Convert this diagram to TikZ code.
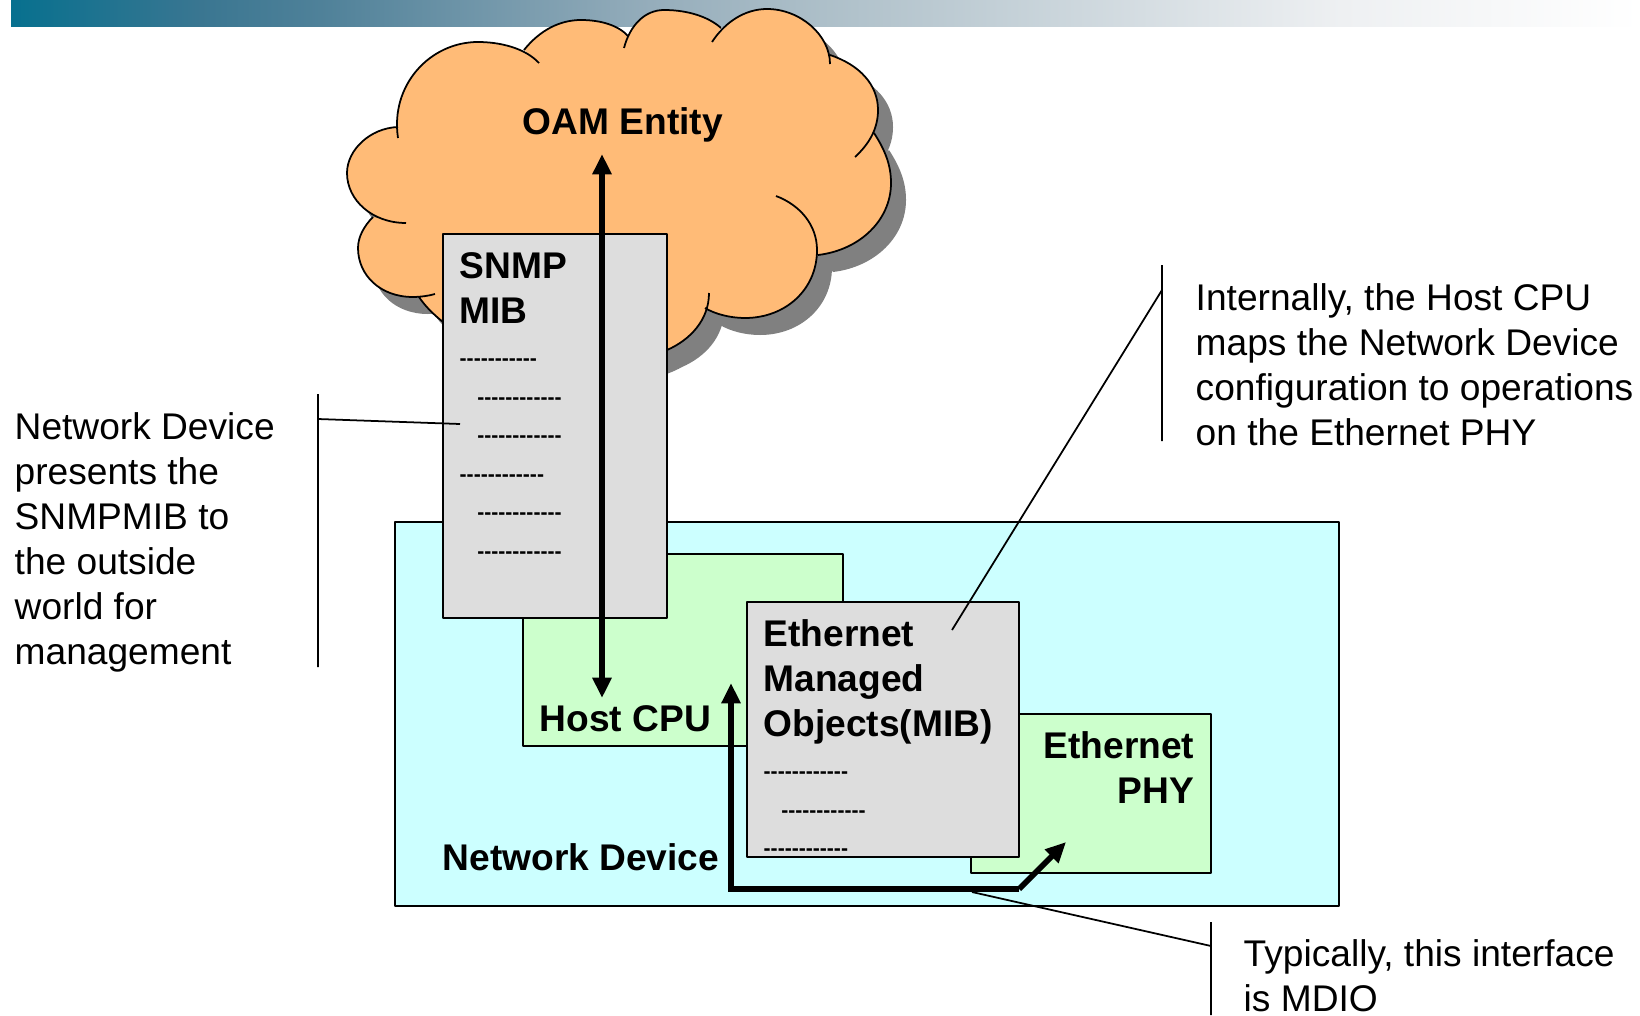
\documentclass[tikz,border=0pt]{standalone}
\usepackage{fontspec}
\setmainfont{Liberation Sans}
\newfontfamily\dashfont{Liberation Sans}
\definecolor{devcyan}{HTML}{CCFFFF}
\definecolor{blockgreen}{HTML}{CCFFCC}
\definecolor{mibgray}{HTML}{DDDDDD}
\definecolor{cloudorange}{HTML}{FFBB77}
\pgfdeclarehorizontalshading{barshade}{100bp}{
	rgb(0bp)=(.027,.44,.56);rgb(25bp)=(.027,.44,.56);rgb(30.8bp)=(.227,.463,.569);
	rgb(34.5bp)=(.31,.506,.6);rgb(44.6bp)=(.584,.678,.733);rgb(49.2bp)=(.667,.741,.78);
	rgb(65.8bp)=(.933,.941,.949);rgb(75bp)=(1,1,1);rgb(100bp)=(1,1,1)}
\usetikzlibrary{arrows.meta}
\tikzset{
	block/.style={draw=black,line width=0.55pt},
	leader/.style={black,line width=0.5pt},
	bushead/.tip={Triangle[length=5.8pt,width=5.2pt]},
	busarrow/.style={-bushead,line width=1.6pt,line join=miter},
	label/.style={inner sep=0pt,align=left,font=\fontsize{10.56}{12.8}\selectfont},
	title/.style={inner sep=0pt,align=left,font=\fontsize{10.56}{12.8}\selectfont\bfseries},
	dashes/.style={inner sep=0pt,align=left,font=\dashfont\fontsize{6}{10.98}\selectfont\bfseries}
}
\newcommand{\cloudpath}[1]{
	(398,138) .. controls (390,85) and (430,42) .. (478,42) .. controls (500,42) and (525,48) .. (539,63) #1
	(524,50) .. controls (540,30) and (560,20) .. (581,20) .. controls (600,20) and (618,25) .. (628,36) #1
	(624,48) .. controls (630,25) and (645,10) .. (664,10) .. controls (690,10) and (710,18) .. (721,28) #1
	(712,42) .. controls (725,22) and (745,9) .. (767,9) .. controls (800,9) and (830,35) .. (830,64) #1
	(830,55) .. controls (860,65) and (878,85) .. (878,110) .. controls (878,130) and (868,145) .. (855,157) #1
	(874,133) .. controls (885,150) and (891,165) .. (891,183) .. controls (891,220) and (860,250) .. (818,255) #1
	(776,196) .. controls (800,205) and (817,225) .. (817,250) .. controls (817,290) and (785,318) .. (745,318) .. controls (730,318) and (715,314) .. (705,308) #1
	(709,293) .. controls (709,320) and (690,340) .. (667,350) .. controls (658,355) and (650,358) .. (640,360) #1
	(443,322) .. controls (433,314) and (425,306) .. (419,297) #1
	(435,294) .. controls (428,296) and (420,297) .. (413,297) .. controls (380,297) and (358,275) .. (358,248) .. controls (358,237) and (364,226) .. (373,217) #1
	(406,223) .. controls (372,223) and (347,200) .. (347,173) .. controls (347,150) and (370,128) .. (398,127)
}
\begin{document}
\begin{tikzpicture}[x=0.01cm,y=-0.01cm,line join=round]
	\useasboundingbox (0,0) rectangle (1640,1015);
	%Bar
	\shade[shading=barshade] (11,0) rectangle (1640,26);
	%Cloud
	\fill[black!50,shift={(15,17)}] \cloudpath{--} -- cycle;
	\fill[cloudorange] \cloudpath{--} -- cycle;
	\draw[line width=0.5pt] \cloudpath{};
	\node[title,anchor=base west] (oam) at (522,134) {OAM Entity};
	%Network device
	\draw[block,fill=devcyan] (395,522) rectangle (1339,906);
	\draw[block,fill=blockgreen] (523,554) rectangle (843,746);
	\draw[block,fill=blockgreen] (971,714) rectangle (1211,873);
	\draw[block,fill=mibgray] (443,234) rectangle (667,618);
	\draw[block,fill=mibgray] (747,602) rectangle (1019,857);
	\node[title,anchor=base west] (netdev) at (442,870) {Network Device};
	\node[title,anchor=base west] (hostcpu) at (539,731) {Host CPU};
	\node[title,anchor=north east,align=right] (phy) at (1195,731) {Ethernet\\PHY};
	\node[title,anchor=north west] (snmp) at (459,252) {SNMP\\MIB};
	\node[title,anchor=north west] (emo) at (763,619) {Ethernet\\Managed\\Objects(MIB)};
	\node[dashes,anchor=north west] (snmpdash) at (459,358) {-----------\\\hspace*{5pt}------------\\\hspace*{5pt}------------\\------------\\\hspace*{5pt}------------\\\hspace*{5pt}------------};
	\node[dashes,anchor=north west] (emodash) at (763,771) {------------\\\hspace*{5pt}------------\\------------};
	%Arrows
	\coordinate (oamtip) at (602,154);
	\coordinate (cputip) at (602,698);
	\coordinate (bustop) at (731,683);
	\coordinate (buscornerl) at (731,889);
	\coordinate (buscornerr) at (1019,889);
	\coordinate (phytip) at (1066,842);
	\draw[busarrow,bushead-bushead] (oamtip)--(cputip);
	\draw[busarrow] (buscornerr)--(buscornerl)--(bustop);
	\draw[busarrow] (buscornerr)--(phytip);
	%Notes
	\node[label,anchor=north west] (notel) at (14,412) {Network Device\\presents the\\SNMPMIB to\\the outside\\world for\\management};
	\node[label,anchor=north west] (noter) at (1195,283) {Internally, the Host CPU\\maps the Network Device\\configuration to operations\\on the Ethernet PHY};
	\node[label,anchor=north west] (noteb) at (1243,939) {Typically, this interface\\is MDIO};
	\coordinate (ltop) at (318,394);
	\coordinate (lbot) at (318,667);
	\coordinate (lfoot) at (318,419);
	\coordinate (lend) at (460,424);
	\coordinate (rtop) at (1162,265);
	\coordinate (rbot) at (1162,441);
	\coordinate (rfoot) at (1162,290);
	\coordinate (rend) at (952,630);
	\coordinate (btop) at (1211,922);
	\coordinate (bbot) at (1211,1015);
	\coordinate (bfoot) at (1211,946);
	\coordinate (bend) at (972,892);
	\draw[leader] (ltop)--(lbot) (lfoot)--(lend);
	\draw[leader] (rtop)--(rbot) (rfoot)--(rend);
	\draw[leader] (btop)--(bbot) (bfoot)--(bend);
\end{tikzpicture}
\end{document}
